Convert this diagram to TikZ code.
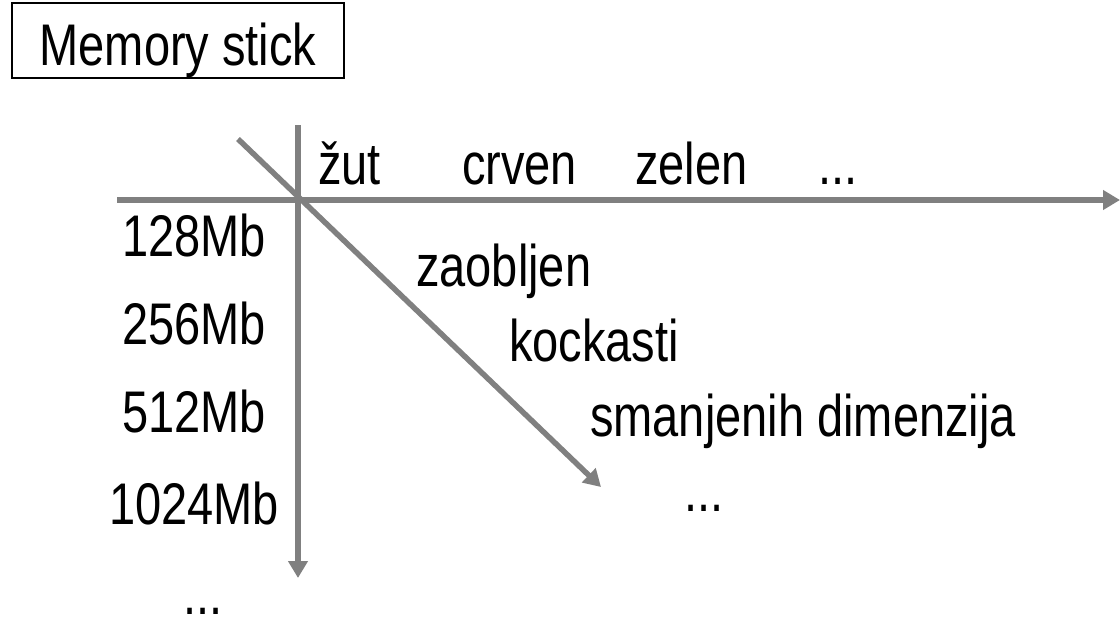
\documentclass[tikz,border=0pt]{standalone}
\usepackage{graphicx}
\usepackage{fontspec}
\setmainfont{Liberation Sans}
\usetikzlibrary{arrows.meta}
\definecolor{axisgray}{RGB}{128,128,128}
% text is set slightly tall and narrow
\newcommand\tallt[1]{\scalebox{1}[1.25]{#1}}
\tikzset{
  lbl/.style={inner sep=0pt, font=\fontsize{47}{56}\selectfont},
  axis/.style={draw=axisgray, line width=5.5pt, -{Triangle[length=17pt,width=19pt]}},
  titlebox/.style={draw=black, line width=2pt, minimum width=332pt, inner sep=0pt,
    text height=62pt, text depth=13pt, font=\fontsize{47}{56}\selectfont}
}
\begin{document}
\begin{tikzpicture}[x=1pt,y=-1pt]
\useasboundingbox (0,0) rectangle (1120,621);

% title
\node[titlebox, anchor=base] (title) at (178,65) {\tallt{Memory stick}};

% axes
\coordinate (hstart) at (117,200);
\coordinate (hend) at (1120,200);
\coordinate (vstart) at (298,125);
\coordinate (vend) at (298,578);
\coordinate (dstart) at (238,139);
\coordinate (dend) at (601,487);
\draw[axis] (hstart) -- (hend);
\draw[axis] (vstart) -- (vend);
\draw[axis] (dstart) -- (dend);

% colours
\node[lbl, anchor=base west] (zut) at (318,184) {\tallt{žut}};
\node[lbl, anchor=base west] (crven) at (462,184) {\tallt{crven}};
\node[lbl, anchor=base west] (zelen) at (635,184) {\tallt{zelen}};
\node[lbl, anchor=base west] (hmore) at (818,184) {\tallt{...}};

% capacities
\node[lbl, anchor=base] (m128) at (194,256) {\tallt{128Mb}};
\node[lbl, anchor=base] (m256) at (194,344) {\tallt{256Mb}};
\node[lbl, anchor=base] (m512) at (194,432) {\tallt{512Mb}};
\node[lbl, anchor=base] (m1024) at (194,524) {\tallt{1024Mb}};
\node[lbl, anchor=base west] (vmore) at (183,614) {\tallt{...}};

% shapes
\node[lbl, anchor=base west] (zaob) at (416,286) {\tallt{zaobljen}};
\node[lbl, anchor=base west] (kock) at (509,361) {\tallt{kockasti}};
\node[lbl, anchor=base west] (sman) at (590,436) {\tallt{smanjenih dimenzija}};
\node[lbl, anchor=base west] (dmore) at (684,511) {\tallt{...}};
\end{tikzpicture}
\end{document}
